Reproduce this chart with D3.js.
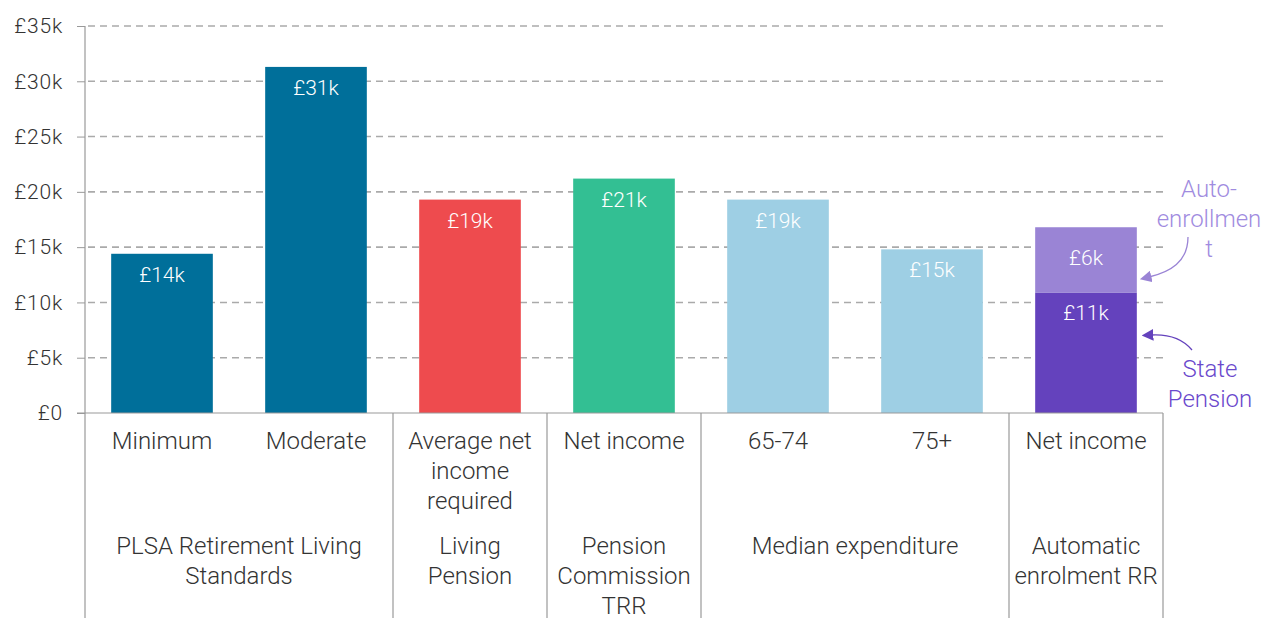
<!DOCTYPE html>
<html>
<head>
<meta charset="utf-8">
<script src="https://cdn.jsdelivr.net/npm/d3@7"></script>
<style>
  body { margin: 0; background: #fff; }
  svg text { font-family: Roboto, "Noto Sans", sans-serif; }
</style>
</head>
<body>
<div id="chart"></div>
<script>
// categories (bar level) and their groups
const categories = ["Minimum", "Moderate", "Average net income required", "Net income TRR", "65-74", "75+", "Net income AE"];
const catLabels = [["Minimum"], ["Moderate"], ["Average net", "income", "required"], ["Net income"], ["65-74"], ["75+"], ["Net income"]];
const groups = [
  { lines: ["PLSA Retirement Living", "Standards"], from: 0, to: 1 },
  { lines: ["Living", "Pension"], from: 2, to: 2 },
  { lines: ["Pension", "Commission", "TRR"], from: 3, to: 3 },
  { lines: ["Median expenditure"], from: 4, to: 5 },
  { lines: ["Automatic", "enrolment RR"], from: 6, to: 6 }
];
// values in £k
const baseValues = [14.4, 31.3, 19.3, 21.2, 19.3, 14.8, 10.9];
const topValues = [0, 0, 0, 0, 0, 0, 5.9];
const baseLabels = ["£14k", "£31k", "£19k", "£21k", "£19k", "£15k", "£11k"];
const topLabels = ["", "", "", "", "", "", "£6k"];
const barColors = ["#006f9a", "#006f9a", "#ee4b4e", "#33bf93", "#9ecfe4", "#9ecfe4", "#6442bd"];
const topColor = "#9a84d5";
const yTicks = [0, 5, 10, 15, 20, 25, 30, 35];

const W = 1271, H = 618;
const margin = { top: 26, left: 85, right: 108, bottom: 205 };
const width = W - margin.left - margin.right;
const height = H - margin.top - margin.bottom;

const svg = d3.select("#chart").append("svg").attr("width", W).attr("height", H);
const g = svg.append("g").attr("transform", `translate(${margin.left},${margin.top})`);

const x = d3.scaleBand().domain(categories).range([0, width]).paddingInner(0.34).paddingOuter(0.17);
const y = d3.scaleLinear().domain([0, 35]).range([height, 0]);

// gridlines + ticks
const yAxis = g.append("g")
  .call(d3.axisLeft(y).tickValues(yTicks).tickSize(8).tickPadding(14)
    .tickFormat(d => d === 0 ? "£0" : `£${d}k`));
yAxis.select(".domain").remove();
yAxis.selectAll(".tick line").attr("stroke", "#999").attr("stroke-width", 1);
yAxis.selectAll(".tick text").attr("fill", "#333").style("font-size", "21px").style("font-weight", 300)
  .style("letter-spacing", "0.8px");

g.append("g").selectAll("line").data(yTicks.filter(d => d > 0)).join("line")
  .attr("x1", 3).attr("x2", width)
  .attr("y1", d => y(d)).attr("y2", d => y(d))
  .attr("stroke", "#aaa").attr("stroke-width", 1.6).attr("stroke-dasharray", "7,5");

// bars
g.append("g").selectAll("rect").data(categories).join("rect")
  .attr("x", d => x(d)).attr("width", x.bandwidth())
  .attr("y", (d, i) => y(baseValues[i]))
  .attr("height", (d, i) => height - y(baseValues[i]))
  .attr("fill", (d, i) => barColors[i]);

g.append("g").selectAll("rect").data(categories.filter((d, i) => topValues[i] > 0)).join("rect")
  .attr("x", d => x(d)).attr("width", x.bandwidth())
  .attr("y", d => { const i = categories.indexOf(d); return y(baseValues[i] + topValues[i]); })
  .attr("height", d => { const i = categories.indexOf(d); return y(baseValues[i]) - y(baseValues[i] + topValues[i]); })
  .attr("fill", topColor);

// value labels
g.append("g").selectAll("text").data(categories).join("text")
  .attr("x", d => x(d) + x.bandwidth() / 2)
  .attr("y", (d, i) => y(baseValues[i]) + 28)
  .attr("text-anchor", "middle")
  .attr("fill", "#fff")
  .style("font-size", "21px").style("font-weight", 300)
  .text((d, i) => baseLabels[i]);

g.append("g").selectAll("text").data(categories.filter((d, i) => topValues[i] > 0)).join("text")
  .attr("x", d => x(d) + x.bandwidth() / 2)
  .attr("y", d => { const i = categories.indexOf(d); return y(baseValues[i] + topValues[i]) + 38; })
  .attr("text-anchor", "middle")
  .attr("fill", "#fff")
  .style("font-size", "21px").style("font-weight", 300)
  .text(d => topLabels[categories.indexOf(d)]);

// axis lines
const step = x.step();
const bandLeft = i => x(categories[i]) - x.paddingInner() * step / 2;
g.append("line").attr("x1", -8).attr("x2", width).attr("y1", height).attr("y2", height)
  .attr("stroke", "#999").attr("stroke-width", 1.2);
g.append("line").attr("x1", 0).attr("x2", 0).attr("y1", 0).attr("y2", H - margin.top)
  .attr("stroke", "#999").attr("stroke-width", 1.2);
const seps = groups.map(gr => gr.to + 1);
g.append("g").selectAll("line").data(seps).join("line")
  .attr("x1", d => d >= categories.length ? width : bandLeft(d))
  .attr("x2", d => d >= categories.length ? width : bandLeft(d))
  .attr("y1", height).attr("y2", H - margin.top)
  .attr("stroke", "#999").attr("stroke-width", 1.2);

// category labels
const catG = g.append("g");
categories.forEach((c, i) => {
  const t = catG.append("text")
    .attr("x", x(c) + x.bandwidth() / 2).attr("y", height + 36)
    .attr("text-anchor", "middle").attr("fill", "#333")
    .style("font-size", "24px").style("font-weight", 300);
  catLabels[i].forEach((ln, k) => t.append("tspan").attr("x", x(c) + x.bandwidth() / 2).attr("dy", k ? 30 : 0).text(ln));
});

// group labels
groups.forEach(gr => {
  const cx = (x(categories[gr.from]) + x(categories[gr.to]) + x.bandwidth()) / 2;
  const t = g.append("text")
    .attr("x", cx).attr("y", height + 141)
    .attr("text-anchor", "middle").attr("fill", "#333")
    .style("font-size", "24px").style("font-weight", 300);
  gr.lines.forEach((ln, k) => t.append("tspan").attr("x", cx).attr("dy", k ? 30 : 0).text(ln));
});

// annotations
const defs = svg.append("defs");
[["arrLight", topColor], ["arrDark", "#6442bd"]].forEach(([id, col]) => {
  defs.append("marker").attr("id", id).attr("viewBox", "0 0 10 10")
    .attr("refX", 2).attr("refY", 5).attr("markerWidth", 9).attr("markerHeight", 9)
    .attr("orient", "auto-start-reverse")
    .append("path").attr("d", "M0,0 L10,5 L0,10 z").attr("fill", col);
});

const ann = svg.append("g").style("font-size", "24px").style("font-weight", 300).attr("text-anchor", "middle");
const a1 = ann.append("text").attr("fill", "#a08be0").attr("x", 1209).attr("y", 197);
["Auto-", "enrollmen", "t"].forEach((ln, k) => a1.append("tspan").attr("x", 1209).attr("dy", k ? 30 : 0).text(ln));
const a2 = ann.append("text").attr("fill", "#6a48cc").attr("x", 1210).attr("y", 377);
["State", "Pension"].forEach((ln, k) => a2.append("tspan").attr("x", 1210).attr("dy", k ? 30 : 0).text(ln));

svg.append("path").attr("d", "M1188,237 C1188,262 1170,272 1149,277")
  .attr("fill", "none").attr("stroke", topColor).attr("stroke-width", 1.3)
  .attr("marker-end", "url(#arrLight)");
svg.append("path").attr("d", "M1192,350 C1182,338 1168,334 1151,335")
  .attr("fill", "none").attr("stroke", "#6442bd").attr("stroke-width", 1.3)
  .attr("marker-end", "url(#arrDark)");
</script>
</body>
</html>
